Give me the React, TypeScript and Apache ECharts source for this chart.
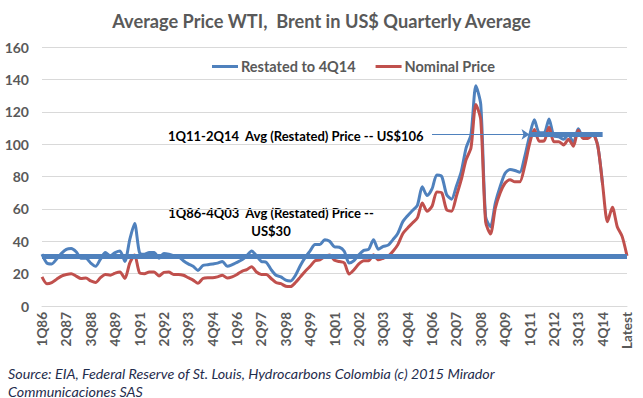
import React, { useEffect, useRef } from "react";
import * as echarts from "echarts";

// Category labels: quarters 1Q86..4Q14, then 2015 quarters and "Latest"
const quarterLabels: string[] = [];
for (let y = 1986; y <= 2014; y++) {
  for (let q = 1; q <= 4; q++) quarterLabels.push(`${q}Q${String(y).slice(2)}`);
}
const extraLabels = ["1Q15", "2Q15", "3Q15", "4Q15", "Latest"];
const categories = [...quarterLabels, ...extraLabels];

// Restated to 4Q14 (US$), 1Q86..4Q14
const restated = [
  32, 26.5, 26, 29, 32.5, 35, 35.5, 33.5, 29.5, 29.5,
  26.5, 24.5, 29, 33, 31, 33, 34, 27.5, 41, 51,
  33, 32, 33, 33, 29.5, 32.5, 32, 31, 30.5, 28,
  26, 24.5, 22, 25, 25.5, 26, 26.5, 27.5, 24.5, 25.5,
  27, 28.5, 31, 34, 31, 27.5, 27, 22.5, 19, 18,
  16, 15.5, 19, 25, 30, 34, 38, 38, 41, 40,
  36.5, 36.3, 33.8, 26.5, 28, 31.7, 34.4, 35, 41, 35,
  36.8, 37.6, 41, 45, 52, 55.8, 59, 62.2, 73.6, 68.2,
  72.3, 81, 80, 68.8, 66, 74, 83, 97.7, 106, 136,
  124.5, 55, 49, 63.7, 74, 82, 84.3, 83.7, 82.6, 92,
  105, 115, 107, 107, 115.5, 105, 104.5, 103, 106, 100.8,
  109.5, 104.5, 105, 106.5, 99, 75,
];

// Nominal price (US$), 1Q86..4Q14, 2015 quarters, Latest
const nominal = [
  18, 13.8, 14.5, 16.5, 18.5, 19.5, 20, 18.5, 17, 17.3,
  15.5, 14.5, 17.5, 19.5, 19, 20.3, 21, 17, 26.5, 31.5,
  20.5, 20, 21, 21, 18.5, 20.8, 21, 19.5, 19.5, 19,
  17.5, 16, 14, 17, 17.5, 17.5, 18, 19, 17.3, 18,
  19.5, 21.4, 22.5, 24.3, 21, 19.5, 19.5, 17, 14.5, 13.8,
  12.2, 12, 14.5, 18, 21.5, 24.5, 28, 28.5, 30.5, 31.5,
  28.2, 27.5, 26.6, 19.8, 22.4, 26, 28, 28, 31.7, 28.5,
  29.5, 30.7, 33.8, 37.9, 44.7, 48.2, 51.3, 54.4, 63.7, 58.5,
  61.6, 70.5, 69.9, 59.5, 58.5, 67.8, 78, 90.4, 97.7, 124.5,
  115, 52, 44.5, 60.6, 70, 76, 78, 76.7, 76.7, 86.3,
  100, 109, 101.8, 102, 110.5, 101.5, 101.5, 99.5, 103, 98.7,
  108.5, 103.5, 103.5, 106, 99, 75,
  52, 61, 49, 43, 31,
];

const avgEarly = 30.5; // 1Q86-4Q03 average (restated)
const avgRecent = 106; // 1Q11-2Q14 average (restated)
const avgRecentFrom = "1Q11";
const avgRecentTo = "4Q14";
const arrowFrom = "1Q06";

const yTicks = { min: 0, max: 160, interval: 20 };

const FONT = "Lato, 'Open Sans', sans-serif";
const GREY = "#595959";
const BLUE = "#4f81bd";
const RED = "#c0504d";

export default function App() {
  const ref = useRef<HTMLDivElement>(null);

  useEffect(() => {
    if (!ref.current) return;
    const chart = echarts.init(ref.current, undefined, { renderer: "svg" });
    chart.setOption({
      animation: false,
      backgroundColor: "#ffffff",
      title: {
        text: "Average Price WTI,  Brent in US$ Quarterly Average",
        left: "center",
        top: 7,
        textStyle: { fontFamily: FONT, fontSize: 18.2, fontWeight: "bold", color: GREY },
      },
      legend: {
        left: 207,
        top: 54,
        itemWidth: 26,
        itemHeight: 3,
        itemGap: 20,
        icon: "rect",
        textStyle: { fontFamily: FONT, fontSize: 14.5, fontWeight: "bold", color: GREY, padding: [0, 0, 0, -2] },
        data: ["Restated to 4Q14", "Nominal Price"],
      },
      grid: { left: 42, right: 16, top: 47, bottom: 92, containLabel: false },
      xAxis: {
        type: "category",
        data: categories,
        boundaryGap: false,
        axisLine: { show: true, lineStyle: { color: "#d9d9d9" } },
        axisTick: { show: false },
        splitLine: { show: false },
        axisLabel: {
          interval: 4,
          rotate: 90,
          margin: 6,
          fontFamily: FONT,
          fontSize: 13.5,
          fontWeight: "bold",
          color: GREY,
          hideOverlap: false,
        },
      },
      yAxis: {
        type: "value",
        min: yTicks.min,
        max: yTicks.max,
        interval: yTicks.interval,
        axisLine: { show: false },
        axisTick: { show: false },
        splitLine: { lineStyle: { color: "#d9d9d9", width: 1 } },
        axisLabel: { fontFamily: FONT, fontSize: 14, fontWeight: "bold", color: GREY, margin: 13 },
      },
      series: [
        {
          name: "Restated to 4Q14",
          type: "line",
          data: restated,
          showSymbol: false,
          smooth: 0.25,
          lineStyle: { color: BLUE, width: 3 },
          itemStyle: { color: BLUE },
          z: 2,
          markLine: {
            silent: true,
            symbol: "none",
            label: { show: false },
            lineStyle: { color: BLUE, width: 5, type: "solid" },
            data: [
              { yAxis: avgEarly },
              [
                { coord: [avgRecentFrom, avgRecent] },
                { coord: [avgRecentTo, avgRecent] },
              ],
            ],
          },
        },
        {
          name: "Nominal Price",
          type: "line",
          data: nominal,
          showSymbol: false,
          smooth: 0.25,
          lineStyle: { color: RED, width: 3 },
          itemStyle: { color: RED },
          z: 3,
          markLine: {
            silent: true,
            symbol: ["none", "arrow"],
            symbolSize: 8,
            label: { show: false },
            lineStyle: { color: BLUE, width: 1, type: "solid" },
            data: [
              [
                { coord: [arrowFrom, avgRecent] },
                { coord: [avgRecentFrom, avgRecent] },
              ],
            ],
          },
        },
      ],
      graphic: [
        {
          type: "text",
          x: 168,
          y: 136,
          style: {
            text: "1Q11-2Q14  Avg (Restated) Price -- US$106",
            font: `bold 13px ${FONT}`,
            fill: "#000000",
            align: "left",
            verticalAlign: "middle",
          },
        },
        {
          type: "text",
          x: 271,
          y: 222,
          style: {
            text: "1Q86-4Q03  Avg (Restated) Price --\nUS$30",
            font: `bold 13px ${FONT}`,
            lineHeight: 18,
            fill: "#000000",
            align: "center",
            verticalAlign: "middle",
          },
        },
        {
          type: "text",
          x: 8,
          y: 382,
          style: {
            text: "Source: EIA, Federal Reserve of St. Louis, Hydrocarbons Colombia (c) 2015 Mirador\nCommunicaciones SAS",
            font: `italic 14.3px ${FONT}`,
            lineHeight: 18,
            fill: "#1f2d4d",
            align: "left",
            verticalAlign: "middle",
          },
        },
      ],
    });
    return () => chart.dispose();
  }, []);

  return (
    <div
      ref={ref}
      style={{ position: "fixed", left: 0, top: 0, width: 643, height: 398, background: "#fff" }}
    />
  );
}
